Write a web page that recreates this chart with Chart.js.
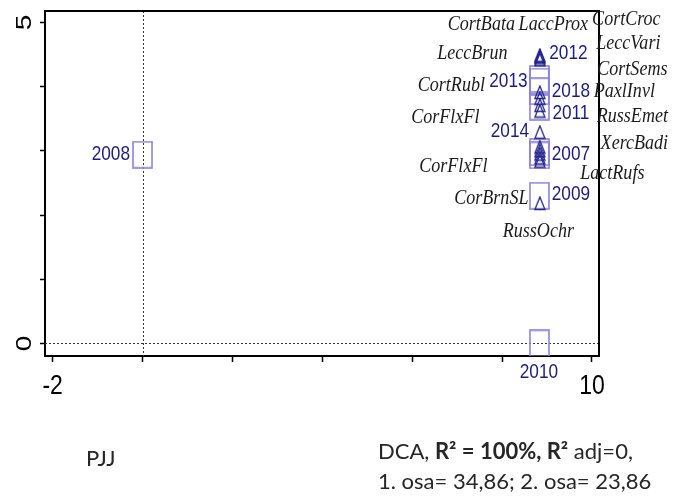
<!DOCTYPE html>
<html>
<head>
<meta charset="utf-8">
<script src="https://cdn.jsdelivr.net/npm/chart.js@4/dist/chart.umd.min.js"></script>
<style>
  html, body { margin: 0; padding: 0; background: #fff; }
  #wrap { position: relative; width: 687px; height: 496px; overflow: hidden; }
  #c { position: absolute; left: 0; top: 0; }
  .cap { position: absolute; font-family: Lato, 'Open Sans', sans-serif; font-size: 22px; color: #262626; white-space: nowrap; line-height: 30px; }
  .cap b { font-weight: 700; }
</style>
</head>
<body>
<div id="wrap">
  <canvas id="c" width="687" height="496"></canvas>
  <div class="cap" style="left:86px; top:443px;">PJJ</div>
  <div class="cap" style="left:378px; top:436px;">DCA, <b>R² = 100%, R²</b> adj=0,<br>1. osa= 34,86; 2. osa= 23,86</div>
</div>
<script>
// Relevé (year) scores on DCA axes 1 and 2
const sampleNames = ['2007', '2008', '2009', '2010', '2011', '2012', '2013', '2014', '2018'];
const sampleAxis1 = [8.83, 0.00, 8.83, 8.83, 8.83, 8.83, 8.83, 8.83, 8.83];
const sampleAxis2 = [2.93, 2.94, 2.30, 0.00, 3.69, 4.12, 4.08, 2.98, 3.93];

// Species scores on DCA axes 1 and 2
const speciesNames = ['CortBata', 'LaccProx', 'CortCroc', 'LeccVari', 'LeccBrun', 'CortSems', 'CortRubl', 'PaxlInvl',
                      'CorFlxFl', 'RussEmet', 'XercBadi', 'CorFlxFl', 'LactRufs', 'CorBrnSL', 'RussOchr'];
const speciesAxis1 = [8.84, 8.84, 8.84, 8.84, 8.84, 8.84, 8.84, 8.84, 8.84, 8.84, 8.84, 8.84, 8.84, 8.84, 8.84];
const speciesAxis2 = [4.49, 4.45, 4.42, 3.91, 4.47, 3.82, 3.71, 3.62, 3.29, 3.06, 3.00, 2.95, 2.89, 2.84, 2.18];

// Labelled ticks
const xTickLabels = [-2, 10];
const yTickLabels = [0, 5];

// Label placement (pixel offsets of each label centre from its marker)
const sampleLabelOffsets = [[31.5, -1], [-31.7, -1], [31.5, -1.7], [-0.5, 28.4], [31.5, 6.4],
                            [29, -26], [-31, 0], [-29.5, -21], [31.5, 0]];
const speciesLabelOffsets = [[-58.5, -30.7], [13.5, -33.3], [86.5, -40.2], [88.5, -49.1], [-67.5, -3],
                             [92.5, -28.9], [-88.5, -20], [84.5, -19.8], [-94.5, -15.1], [92.5, -31],
                             [94.5, -7.8], [-86.5, 12], [72.5, 15.1], [-48.5, 36.9], [-1.5, 27.3]];

const SAMPLE_COLOR = '#8c82da';
const SAMPLE_TEXT = '#1c1c80';
const SPECIES_COLOR = '#23238a';
const SPECIES_TEXT = '#1b1b1b';
const SX = 0.82; // horizontal squeeze of all plot text

// Marker glyphs
function makeRect() {
  const c = document.createElement('canvas');
  c.width = 21; c.height = 28;
  const g = c.getContext('2d');
  g.strokeStyle = SAMPLE_COLOR; g.lineWidth = 1.6;
  g.strokeRect(1, 1, 19, 26);
  return c;
}
function makeTriangle() {
  const c = document.createElement('canvas');
  c.width = 12; c.height = 15;
  const g = c.getContext('2d');
  g.strokeStyle = SPECIES_COLOR; g.lineWidth = 1.3;
  g.beginPath();
  g.moveTo(6, 1); g.lineTo(11, 13.5); g.lineTo(1, 13.5); g.closePath();
  g.stroke();
  return c;
}

function squeezedText(ctx, text, x, y, font, color, rotate) {
  ctx.save();
  ctx.translate(x, y);
  if (rotate) { ctx.rotate(-Math.PI / 2); ctx.scale(1, SX); } else { ctx.scale(SX, 1); }
  ctx.font = font;
  ctx.fillStyle = color;
  ctx.textAlign = 'center';
  ctx.textBaseline = 'middle';
  ctx.fillText(text, 0, 0);
  ctx.restore();
}

const ordinationDecor = {
  id: 'ordinationDecor',
  beforeDatasetsDraw(chart) {
    const { ctx, chartArea: a, scales: { x, y } } = chart;
    ctx.save();
    ctx.strokeStyle = '#333';
    ctx.lineWidth = 1;
    ctx.setLineDash([2, 2]);
    const x0 = Math.round(x.getPixelForValue(0)) + 0.5;
    const y0 = Math.round(y.getPixelForValue(0)) + 0.5;
    ctx.beginPath();
    ctx.moveTo(x0, a.top); ctx.lineTo(x0, a.bottom);
    ctx.moveTo(a.left, y0); ctx.lineTo(a.right, y0);
    ctx.stroke();
    ctx.restore();
  },
  afterDraw(chart) {
    const { ctx, chartArea: a, scales: { x, y } } = chart;
    // frame top and right
    ctx.save();
    ctx.strokeStyle = '#000';
    ctx.lineWidth = 2;
    ctx.beginPath();
    ctx.moveTo(a.left, a.top); ctx.lineTo(a.right, a.top); ctx.lineTo(a.right, a.bottom);
    ctx.stroke();
    ctx.restore();

    // tick labels
    xTickLabels.forEach(v => squeezedText(ctx, String(v), x.getPixelForValue(v), a.bottom + 30, '28px "Liberation Sans", Arial, sans-serif', '#000', false));
    yTickLabels.forEach(v => squeezedText(ctx, String(v), 25, y.getPixelForValue(v), '28px "Liberation Sans", Arial, sans-serif', '#000', true));

    // species labels
    speciesNames.forEach((n, i) => {
      const px = x.getPixelForValue(speciesAxis1[i]);
      const py = y.getPixelForValue(speciesAxis2[i]);
      const [dx, dy] = speciesLabelOffsets[i];
      squeezedText(ctx, n, px + dx, py + dy, 'italic 22px "Liberation Serif", "Times New Roman", serif', SPECIES_TEXT, false);
    });

    // sample labels
    sampleNames.forEach((n, i) => {
      const px = x.getPixelForValue(sampleAxis1[i]);
      const py = y.getPixelForValue(sampleAxis2[i]);
      const [dx, dy] = sampleLabelOffsets[i];
      squeezedText(ctx, n, px + dx, py + dy, '21px "Liberation Sans", Arial, sans-serif', SAMPLE_TEXT, false);
    });
  }
};

const rectGlyph = makeRect();
const triGlyph = makeTriangle();

new Chart(document.getElementById('c'), {
  type: 'scatter',
  data: {
    datasets: [
      {
        label: 'species',
        order: 0,
        data: speciesAxis1.map((v, i) => ({ x: v, y: speciesAxis2[i] })),
        pointStyle: triGlyph,
        pointRadius: 6,
        pointHoverRadius: 6
      },
      {
        label: 'samples',
        order: 1,
        data: sampleAxis1.map((v, i) => ({ x: v, y: sampleAxis2[i] })),
        pointStyle: rectGlyph,
        pointRadius: 10,
        pointHoverRadius: 10
      }
    ]
  },
  options: {
    responsive: false,
    animation: false,
    devicePixelRatio: 1,
    layout: { padding: { top: 9, right: 88, left: 0, bottom: 0 } },
    plugins: { legend: { display: false }, tooltip: { enabled: false } },
    events: [],
    scales: {
      x: {
        type: 'linear',
        min: -2.17, max: 10.156,
        afterFit: s => { s.height = 140; },
        ticks: { display: false, stepSize: 2, includeBounds: false },
        grid: { drawOnChartArea: false, drawTicks: true, tickLength: 6, tickWidth: 1.5, tickColor: '#000' },
        border: { display: true, color: '#000', width: 2 }
      },
      y: {
        type: 'linear',
        min: -0.197, max: 5.18,
        afterFit: s => { s.width = 45; },
        ticks: { display: false, stepSize: 1, includeBounds: false },
        grid: { drawOnChartArea: false, drawTicks: true, tickLength: 5, tickWidth: 1.5, tickColor: '#000' },
        border: { display: true, color: '#000', width: 2 }
      }
    }
  },
  plugins: [ordinationDecor]
});
</script>
</body>
</html>
